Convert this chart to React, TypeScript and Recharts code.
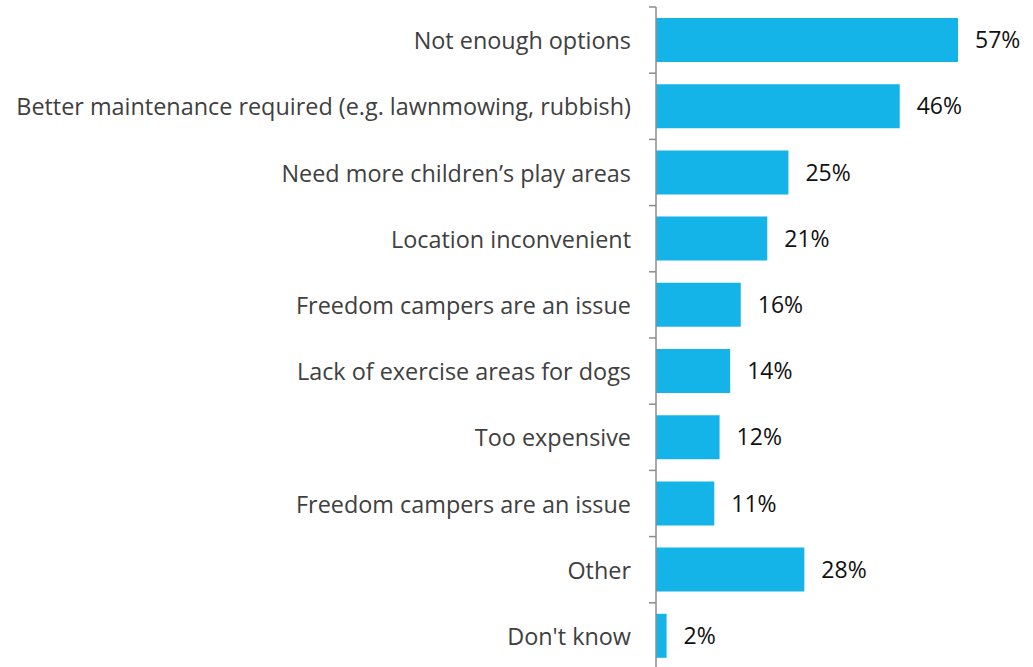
import React from "react";
import { BarChart, Bar, XAxis, YAxis, LabelList } from "recharts";

const categories = [
  "Not enough options",
  "Better maintenance required (e.g. lawnmowing, rubbish)",
  "Need more children\u2019s play areas",
  "Location inconvenient",
  "Freedom campers are an issue",
  "Lack of exercise areas for dogs",
  "Too expensive",
  "Freedom campers are an issue",
  "Other",
  "Don't know",
];
const values = [57, 46, 25, 21, 16, 14, 12, 11, 28, 2];

const data = categories.map((c, i) => ({ key: `${i}`, name: c, value: values[i] }));

const W = 1033;
const H = 667;
const MARGIN = { top: 7, right: 75, bottom: -2, left: 0 };
const BAND = (H - MARGIN.top - MARGIN.bottom) / categories.length;
const FONT = "'Open Sans', sans-serif";

const CatTick = (props: any) => {
  const { x, y, payload, index } = props;
  const label = categories[Number(payload.value)];
  const axisX = x + 8;
  return (
    <g>
      <line x1={axisX - 7} x2={axisX} y1={y - BAND / 2} y2={y - BAND / 2} stroke="#8c8c8c" strokeWidth={1.5} />
      {index === categories.length - 1 && (
        <line x1={axisX - 7} x2={axisX} y1={y + BAND / 2} y2={y + BAND / 2} stroke="#8c8c8c" strokeWidth={1.5} />
      )}
      <text x={x - 17} y={y} dy={9} textAnchor="end" fill="#404040" fontSize={23.4} fontFamily={FONT}>
        {label}
      </text>
    </g>
  );
};

export default function App() {
  return (
    <div style={{ position: "absolute", left: 0, top: 0, width: W, height: H, background: "#fff", overflow: "hidden" }}>
      <BarChart width={W} height={H} data={data} layout="vertical" margin={MARGIN} barCategoryGap={0}>
        <XAxis type="number" domain={[0, 57]} hide />
        <YAxis
          type="category"
          dataKey="key"
          width={656}
          axisLine={{ stroke: "#8c8c8c", strokeWidth: 1.5 }}
          tickLine={false}
          tick={<CatTick />}
          interval={0}
        />
        <Bar dataKey="value" fill="#14B4E8" barSize={44} isAnimationActive={false}>
          <LabelList
            dataKey="value"
            position="right"
            offset={17}
            formatter={(v: any) => `${v}%`}
            fill="#111"
            fontSize={23}
            fontFamily={FONT}
          />
        </Bar>
      </BarChart>
    </div>
  );
}
